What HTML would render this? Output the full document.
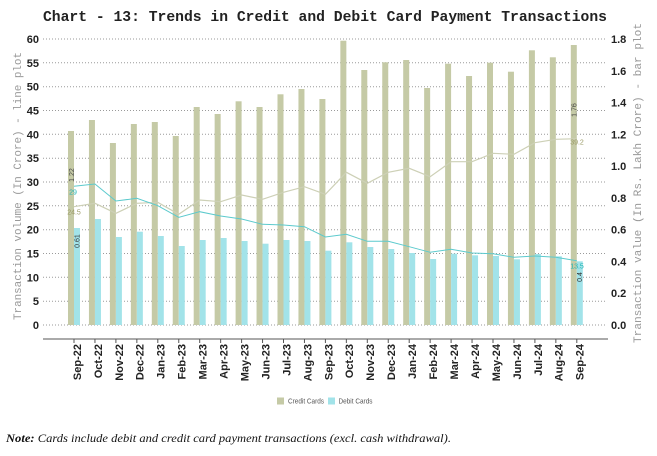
<!DOCTYPE html>
<html><head><meta charset="utf-8"><style>
html,body{margin:0;padding:0;background:#fff;}
svg{display:block;}
</style></head><body>
<svg width="657" height="456" viewBox="0 0 657 456" xmlns="http://www.w3.org/2000/svg">
<rect width="657" height="456" fill="#fff"/>
<text x="43" y="21" font-family="Liberation Mono, monospace" font-weight="bold" font-size="14.7" fill="#222" textLength="564" lengthAdjust="spacingAndGlyphs">Chart - 13: Trends in Credit and Debit Card Payment Transactions</text>

<g stroke="#9a9a9a" stroke-width="1" stroke-dasharray="1,2">
<line x1="43" y1="325" x2="607" y2="325"/>
<line x1="43" y1="301.2" x2="607" y2="301.2"/>
<line x1="43" y1="277.3" x2="607" y2="277.3"/>
<line x1="43" y1="253.5" x2="607" y2="253.5"/>
<line x1="43" y1="229.7" x2="607" y2="229.7"/>
<line x1="43" y1="205.8" x2="607" y2="205.8"/>
<line x1="43" y1="182" x2="607" y2="182"/>
<line x1="43" y1="158.2" x2="607" y2="158.2"/>
<line x1="43" y1="134.3" x2="607" y2="134.3"/>
<line x1="43" y1="110.5" x2="607" y2="110.5"/>
<line x1="43" y1="86.7" x2="607" y2="86.7"/>
<line x1="43" y1="62.8" x2="607" y2="62.8"/>
<line x1="43" y1="39" x2="607" y2="39"/>
</g>

<g font-family="Liberation Sans, Arial, sans-serif" font-weight="bold" font-size="11" fill="#222" text-anchor="end">
<text x="39" y="329">0</text>
<text x="39" y="305.2">5</text>
<text x="39" y="281.3">10</text>
<text x="39" y="257.5">15</text>
<text x="39" y="233.7">20</text>
<text x="39" y="209.8">25</text>
<text x="39" y="186">30</text>
<text x="39" y="162.2">35</text>
<text x="39" y="138.3">40</text>
<text x="39" y="114.5">45</text>
<text x="39" y="90.7">50</text>
<text x="39" y="66.8">55</text>
<text x="39" y="43">60</text>
</g>
<g font-family="Liberation Sans, Arial, sans-serif" font-weight="bold" font-size="11" fill="#222">
<text x="611" y="329">0.0</text>
<text x="611" y="297.2">0.2</text>
<text x="611" y="265.4">0.4</text>
<text x="611" y="233.7">0.6</text>
<text x="611" y="201.9">0.8</text>
<text x="611" y="170.1">1.0</text>
<text x="611" y="138.3">1.2</text>
<text x="611" y="106.5">1.4</text>
<text x="611" y="74.8">1.6</text>
<text x="611" y="43">1.8</text>
</g>

<text transform="translate(17,186) rotate(-90)" text-anchor="middle" dy="0.35em" font-family="Liberation Mono, monospace" font-size="11" fill="#999" textLength="268" lengthAdjust="spacingAndGlyphs">Transaction volume (In Crore) - line plot</text>
<text transform="translate(637,183) rotate(-90)" text-anchor="middle" dy="0.35em" font-family="Liberation Mono, monospace" font-size="11" fill="#999" textLength="320" lengthAdjust="spacingAndGlyphs">Transaction value (In Rs. Lakh Crore) - bar plot</text>

<g fill="#c5caa6">
<rect x="68" y="131" width="6" height="194"/>
<rect x="88.95" y="120" width="6" height="205"/>
<rect x="109.9" y="143" width="6" height="182"/>
<rect x="130.85" y="124" width="6" height="201"/>
<rect x="151.8" y="122" width="6" height="203"/>
<rect x="172.75" y="136" width="6" height="189"/>
<rect x="193.7" y="107" width="6" height="218"/>
<rect x="214.65" y="114" width="6" height="211"/>
<rect x="235.6" y="101.3" width="6" height="223.7"/>
<rect x="256.55" y="107" width="6" height="218"/>
<rect x="277.5" y="94.3" width="6" height="230.7"/>
<rect x="298.45" y="89" width="6" height="236"/>
<rect x="319.4" y="99" width="6" height="226"/>
<rect x="340.35" y="40.7" width="6" height="284.3"/>
<rect x="361.3" y="70" width="6" height="255"/>
<rect x="382.25" y="62.3" width="6" height="262.7"/>
<rect x="403.2" y="60" width="6" height="265"/>
<rect x="424.15" y="88" width="6" height="237"/>
<rect x="445.1" y="63.7" width="6" height="261.3"/>
<rect x="466.05" y="76" width="6" height="249"/>
<rect x="487" y="62.7" width="6" height="262.3"/>
<rect x="507.95" y="71.7" width="6" height="253.3"/>
<rect x="528.9" y="50.3" width="6" height="274.7"/>
<rect x="549.85" y="57.3" width="6" height="267.7"/>
<rect x="570.8" y="45" width="6" height="280"/>
</g>
<g fill="#a2e3e9">
<rect x="74" y="228" width="6" height="97"/>
<rect x="94.95" y="219" width="6" height="106"/>
<rect x="115.9" y="237" width="6" height="88"/>
<rect x="136.85" y="231.7" width="6" height="93.3"/>
<rect x="157.8" y="236" width="6" height="89"/>
<rect x="178.75" y="246" width="6" height="79"/>
<rect x="199.7" y="240" width="6" height="85"/>
<rect x="220.65" y="238" width="6" height="87"/>
<rect x="241.6" y="241" width="6" height="84"/>
<rect x="262.55" y="243.7" width="6" height="81.3"/>
<rect x="283.5" y="240" width="6" height="85"/>
<rect x="304.45" y="241" width="6" height="84"/>
<rect x="325.4" y="250.7" width="6" height="74.3"/>
<rect x="346.35" y="242.3" width="6" height="82.7"/>
<rect x="367.3" y="247" width="6" height="78"/>
<rect x="388.25" y="249" width="6" height="76"/>
<rect x="409.2" y="253" width="6" height="72"/>
<rect x="430.15" y="259" width="6" height="66"/>
<rect x="451.1" y="253.7" width="6" height="71.3"/>
<rect x="472.05" y="255.3" width="6" height="69.7"/>
<rect x="493" y="256" width="6" height="69"/>
<rect x="513.95" y="259.3" width="6" height="65.7"/>
<rect x="534.9" y="254" width="6" height="71"/>
<rect x="555.85" y="256.3" width="6" height="68.7"/>
<rect x="576.8" y="261.3" width="6" height="63.7"/>
</g>

<polyline fill="none" stroke="#cdd0b6" stroke-width="1.2" points="74,206.7 94.95,203.3 115.9,213.3 136.85,203.3 157.8,202.3 178.75,214.3 199.7,200 220.65,201.7 241.6,195 262.55,199.3 283.5,192.3 304.45,186.7 325.4,194.3 346.35,172.3 367.3,183.3 388.25,172.3 409.2,168.3 430.15,176.7 451.1,161.7 472.05,161.7 493,153.3 513.95,154.3 534.9,142.7 555.85,139.3 576.8,138.7"/>
<polyline fill="none" stroke="#5ccacd" stroke-width="1" points="74,186.3 94.95,184 115.9,201 136.85,198.3 157.8,205.7 178.75,217.3 199.7,211.7 220.65,216 241.6,219 262.55,224.3 283.5,225 304.45,226.7 325.4,237 346.35,234.3 367.3,241.3 388.25,241.3 409.2,246.7 430.15,252.3 451.1,249.3 472.05,253 493,253.7 513.95,257.3 534.9,256 555.85,257.3 576.8,260.7"/>

<g font-family="Liberation Sans, Arial, sans-serif" font-size="7">
<text transform="translate(71.5,175) rotate(-90)" text-anchor="middle" dy="0.35em" fill="#444">1.22</text>
<text x="73" y="194.5" text-anchor="middle" fill="#1fb5b5">29</text>
<text x="74" y="214.5" text-anchor="middle" fill="#9a9a66">24.5</text>
<text transform="translate(77,241) rotate(-90)" text-anchor="middle" dy="0.35em" fill="#333">0.61</text>
<text transform="translate(574,110) rotate(-90)" text-anchor="middle" dy="0.35em" fill="#444">1.76</text>
<text x="577" y="144.5" text-anchor="middle" fill="#9a9a66">39.2</text>
<text x="577" y="268.5" text-anchor="middle" fill="#1fb5b5">13.5</text>
<text transform="translate(579.5,277) rotate(-90)" text-anchor="middle" dy="0.35em" fill="#333">0.4</text>
</g>

<line x1="43" y1="339" x2="608" y2="339" stroke="#555" stroke-width="1"/>
<g stroke="#555" stroke-width="1">
<line x1="74" y1="339" x2="74" y2="343"/><line x1="94.95" y1="339" x2="94.95" y2="343"/><line x1="115.9" y1="339" x2="115.9" y2="343"/><line x1="136.85" y1="339" x2="136.85" y2="343"/><line x1="157.8" y1="339" x2="157.8" y2="343"/><line x1="178.75" y1="339" x2="178.75" y2="343"/><line x1="199.7" y1="339" x2="199.7" y2="343"/><line x1="220.65" y1="339" x2="220.65" y2="343"/><line x1="241.6" y1="339" x2="241.6" y2="343"/><line x1="262.55" y1="339" x2="262.55" y2="343"/><line x1="283.5" y1="339" x2="283.5" y2="343"/><line x1="304.45" y1="339" x2="304.45" y2="343"/><line x1="325.4" y1="339" x2="325.4" y2="343"/><line x1="346.35" y1="339" x2="346.35" y2="343"/><line x1="367.3" y1="339" x2="367.3" y2="343"/><line x1="388.25" y1="339" x2="388.25" y2="343"/><line x1="409.2" y1="339" x2="409.2" y2="343"/><line x1="430.15" y1="339" x2="430.15" y2="343"/><line x1="451.1" y1="339" x2="451.1" y2="343"/><line x1="472.05" y1="339" x2="472.05" y2="343"/><line x1="493" y1="339" x2="493" y2="343"/><line x1="513.95" y1="339" x2="513.95" y2="343"/><line x1="534.9" y1="339" x2="534.9" y2="343"/><line x1="555.85" y1="339" x2="555.85" y2="343"/><line x1="576.8" y1="339" x2="576.8" y2="343"/>
</g>

<g font-family="Liberation Sans, Arial, sans-serif" font-weight="bold" font-size="11" fill="#222" text-anchor="end">
<text transform="translate(77,344) rotate(-90)" dy="0.35em">Sep-22</text>
<text transform="translate(97.95,344) rotate(-90)" dy="0.35em">Oct-22</text>
<text transform="translate(118.9,344) rotate(-90)" dy="0.35em">Nov-22</text>
<text transform="translate(139.85,344) rotate(-90)" dy="0.35em">Dec-22</text>
<text transform="translate(160.8,344) rotate(-90)" dy="0.35em">Jan-23</text>
<text transform="translate(181.75,344) rotate(-90)" dy="0.35em">Feb-23</text>
<text transform="translate(202.7,344) rotate(-90)" dy="0.35em">Mar-23</text>
<text transform="translate(223.65,344) rotate(-90)" dy="0.35em">Apr-23</text>
<text transform="translate(244.6,344) rotate(-90)" dy="0.35em">May-23</text>
<text transform="translate(265.55,344) rotate(-90)" dy="0.35em">Jun-23</text>
<text transform="translate(286.5,344) rotate(-90)" dy="0.35em">Jul-23</text>
<text transform="translate(307.45,344) rotate(-90)" dy="0.35em">Aug-23</text>
<text transform="translate(328.4,344) rotate(-90)" dy="0.35em">Sep-23</text>
<text transform="translate(349.35,344) rotate(-90)" dy="0.35em">Oct-23</text>
<text transform="translate(370.3,344) rotate(-90)" dy="0.35em">Nov-23</text>
<text transform="translate(391.25,344) rotate(-90)" dy="0.35em">Dec-23</text>
<text transform="translate(412.2,344) rotate(-90)" dy="0.35em">Jan-24</text>
<text transform="translate(433.15,344) rotate(-90)" dy="0.35em">Feb-24</text>
<text transform="translate(454.1,344) rotate(-90)" dy="0.35em">Mar-24</text>
<text transform="translate(475.05,344) rotate(-90)" dy="0.35em">Apr-24</text>
<text transform="translate(496,344) rotate(-90)" dy="0.35em">May-24</text>
<text transform="translate(516.95,344) rotate(-90)" dy="0.35em">Jun-24</text>
<text transform="translate(537.9,344) rotate(-90)" dy="0.35em">Jul-24</text>
<text transform="translate(558.85,344) rotate(-90)" dy="0.35em">Aug-24</text>
<text transform="translate(579.8,344) rotate(-90)" dy="0.35em">Sep-24</text>
</g>

<rect x="277" y="397.5" width="7" height="7" fill="#c5caa6"/>
<text x="288" y="403.5" font-family="Liberation Sans, Arial, sans-serif" font-size="7" fill="#555" textLength="36" lengthAdjust="spacingAndGlyphs">Credit Cards</text>
<rect x="328" y="397.5" width="7" height="7" fill="#a2e3e9"/>
<text x="338.5" y="403.5" font-family="Liberation Sans, Arial, sans-serif" font-size="7" fill="#555" textLength="34" lengthAdjust="spacingAndGlyphs">Debit Cards</text>

<text x="6" y="442" font-family="Liberation Serif, serif" font-style="italic" font-size="12" fill="#111" textLength="445" lengthAdjust="spacingAndGlyphs"><tspan font-weight="bold">Note:</tspan> Cards include debit and credit card payment transactions (excl. cash withdrawal).</text>
</svg>
</body></html>
